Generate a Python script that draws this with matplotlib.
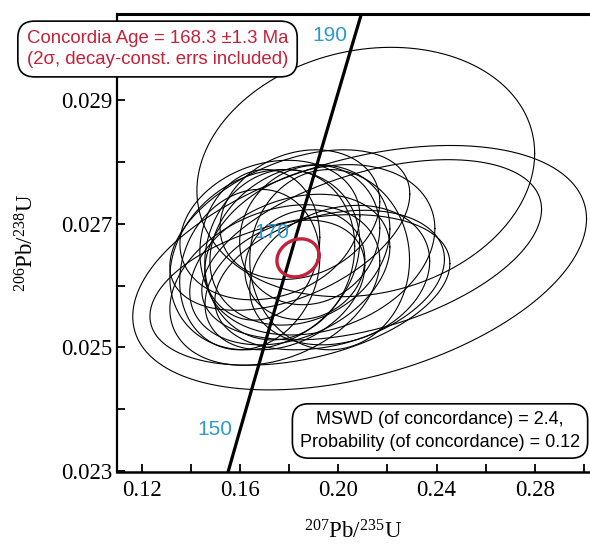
import matplotlib
matplotlib.use("Agg")
import matplotlib.pyplot as plt
import numpy as np
from matplotlib.ticker import MultipleLocator, FixedLocator, FormatStrFormatter

plt.rcParams["font.family"] = ["Liberation Serif", "DejaVu Serif"]
plt.rcParams["mathtext.default"] = "regular"

# concordia curve points (Ma, 207Pb/235U, 206Pb/238U)
conc_age = [140, 150, 160, 170, 180, 190, 200]
conc_x = [0.14784, 0.15920, 0.17067, 0.18226, 0.19396, 0.20577, 0.21771]
conc_y = [0.021955, 0.023542, 0.025131, 0.026722, 0.028316, 0.029913, 0.031511]
label_ages = [150, 170, 190]

# analyses: 207/235, 2s, 206/238, 2s, rho
ell_x = [0.2112, 0.2087, 0.2136, 0.1844, 0.1762, 0.1803, 0.1701, 0.1884, 0.1925,
         0.1783, 0.1844, 0.1722, 0.1965, 0.1640, 0.1844, 0.1742, 0.2006, 0.1681,
         0.1864, 0.1803, 0.1965]
ell_sx = [0.0687, 0.0923, 0.0691, 0.0366, 0.0305, 0.0407, 0.0386, 0.0285, 0.0468,
          0.0325, 0.0610, 0.0366, 0.0325, 0.0285, 0.0325, 0.0427, 0.0366, 0.0244,
          0.0244, 0.0488, 0.0467]
ell_y = [0.02784, 0.02629, 0.02658, 0.02666, 0.02650, 0.02626, 0.02642, 0.02682, 0.02658,
         0.02601, 0.02593, 0.02690, 0.02642, 0.02626, 0.02715, 0.02601, 0.02617, 0.02666,
         0.02634, 0.02690, 0.02609]
ell_sy = [0.00202, 0.00198, 0.00146, 0.00130, 0.00138, 0.00122, 0.00146, 0.00113, 0.00138,
          0.00105, 0.00122, 0.00113, 0.00146, 0.00130, 0.00105, 0.00130, 0.00113, 0.00122,
          0.00089, 0.00130, 0.00113]
ell_rho = [0.15, 0.4, 0.45, 0.2, 0.1, 0.3, 0.2, 0.1, 0.25, 0.3, 0.35, 0.2, 0.0, 0.15,
           0.2, 0.3, 0.2, 0.1, 0.1, 0.45, 0.3]

# concordia age ellipse
conc_ell = [0.1836, 0.00854, 0.026449, 0.000308, 0.15]


def ellipse(cx, sx, cy, sy, rho):
    t = np.linspace(0, 2 * np.pi, 300)
    x = cx + sx * np.cos(t)
    y = cy + sy * (rho * np.cos(t) + np.sqrt(1 - rho ** 2) * np.sin(t))
    return x, y


fig = plt.figure(figsize=(5.9, 5.47), dpi=100)
ax = fig.add_axes([0.1983, 0.1371, 0.80, 0.8373])

for i in range(len(ell_x)):
    ex, ey = ellipse(ell_x[i], ell_sx[i], ell_y[i], ell_sy[i], ell_rho[i])
    ax.plot(ex, ey, color="black", lw=0.8)

ax.plot(conc_x, conc_y, color="black", lw=2.3, zorder=5)

rx, ry = ellipse(*conc_ell)
ax.plot(rx, ry, color="#c4213a", lw=2.4, zorder=6)

for age in label_ages:
    k = conc_age.index(age)
    ax.annotate(str(age), (conc_x[k], conc_y[k]), xytext=(-4, -1), textcoords="offset points",
                ha="right", va="bottom", color="#2a9ad0", fontsize=15,
                family=["Liberation Sans"], zorder=7)

ax.set_xlim(0.11, 0.302)
ax.set_ylim(0.02298, 0.0304)

ax.xaxis.set_major_locator(MultipleLocator(0.04))
ax.xaxis.set_minor_locator(MultipleLocator(0.02))
ax.xaxis.set_major_formatter(FormatStrFormatter("%.2f"))
ax.yaxis.set_major_locator(FixedLocator([0.023, 0.025, 0.027, 0.029]))
ax.yaxis.set_minor_locator(FixedLocator([0.024, 0.026, 0.028, 0.030]))
ax.yaxis.set_major_formatter(FormatStrFormatter("%.3f"))
ax.tick_params(which="both", direction="in", length=6, width=1.3, labelsize=16.5)
ax.tick_params(axis="x", pad=6)

ax.spines["right"].set_visible(False)
ax.spines["top"].set_linewidth(2.2)
ax.spines["left"].set_linewidth(1.6)
ax.spines["bottom"].set_linewidth(1.8)

ax.set_xlabel("$^{207}$Pb/$^{235}$U", fontsize=16.5, labelpad=14)
ax.set_ylabel("$^{206}$Pb/$^{238}$U", fontsize=16.5, labelpad=16)

fig.text(0.267, 0.9104, "Concordia Age = 168.3 \u00b11.3 Ma\n(2\u03c3, decay-const. errs included)",
         ha="center", va="center", multialignment="center", color="#c4213a", fontsize=13.4,
         family=["Liberation Sans"], linespacing=1.3,
         bbox=dict(boxstyle="round,pad=0.48,rounding_size=0.9", fc="white", ec="black", lw=1.2))

fig.text(0.7458, 0.2121, "MSWD (of concordance) = 2.4,\nProbability (of concordance) = 0.12",
         ha="center", va="center", multialignment="center", color="black", fontsize=13,
         family=["Liberation Sans"], linespacing=1.4,
         bbox=dict(boxstyle="round,pad=0.42,rounding_size=0.9", fc="white", ec="black", lw=1.2))

fig.savefig("out.png", dpi=100)
